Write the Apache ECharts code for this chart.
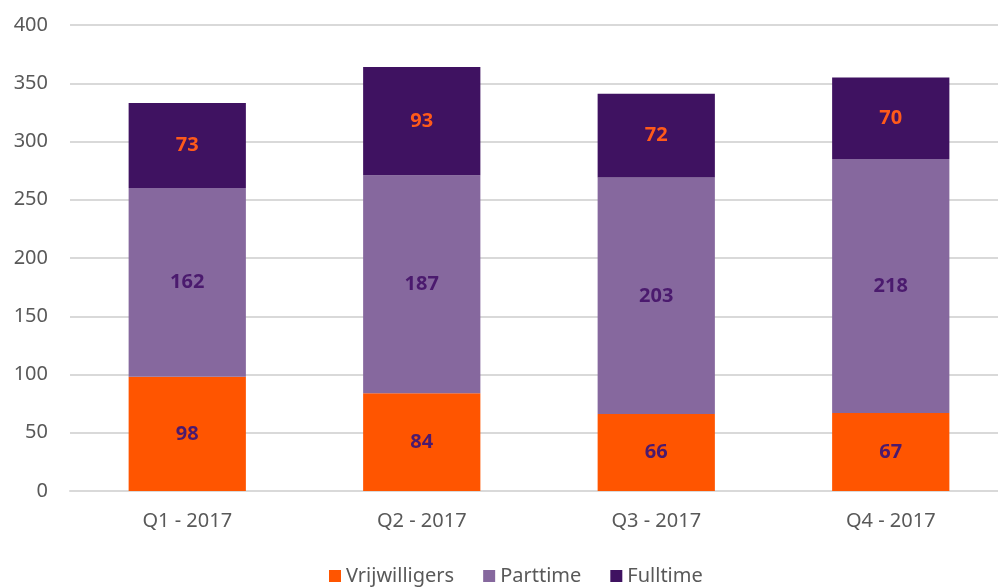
<!DOCTYPE html>
<html>
<head>
<meta charset="utf-8">
<script src="https://cdn.jsdelivr.net/npm/echarts@6/dist/echarts.min.js"></script>
<style>
  html, body { margin: 0; padding: 0; background: #fff; overflow: hidden; }
  #chart { width: 1012px; height: 587px; }
</style>
</head>
<body>
<div id="chart"></div>
<script>
// kwartalen
const categories = ['Q1 - 2017', 'Q2 - 2017', 'Q3 - 2017', 'Q4 - 2017'];
const vrijwilligers = [98, 84, 66, 67];
const parttime = [162, 187, 203, 218];
const fulltime = [73, 93, 72, 70];
const yTicks = [0, 50, 100, 150, 200, 250, 300, 350, 400];

const labelFont = 'Noto Sans';

function makeSeries(name, data, color, labelColor) {
  return {
    name: name,
    type: 'bar',
    stack: 'totaal',
    data: data,
    barWidth: '50%',
    itemStyle: { color: color },
    label: {
      show: true,
      position: 'inside',
      color: labelColor,
      fontWeight: 'bold',
      fontSize: 20,
      fontFamily: labelFont
    }
  };
}

const chart = echarts.init(document.getElementById('chart'));
chart.setOption({
  animation: false,
  grid: {
    left: 70,
    top: 25,
    width: 938,
    height: 466
  },
  legend: {
    top: 561,
    left: 324,
    icon: 'rect',
    itemWidth: 12,
    itemHeight: 12,
    itemGap: 29,
    textStyle: { color: '#595959', fontSize: 20, fontFamily: labelFont }
  },
  xAxis: {
    type: 'category',
    data: categories,
    axisTick: { show: false },
    axisLine: { lineStyle: { color: '#D9D9D9', width: 2 } },
    axisLabel: { color: '#595959', fontSize: 20, fontFamily: labelFont, margin: 20 }
  },
  yAxis: {
    type: 'value',
    min: yTicks[0],
    max: yTicks[yTicks.length - 1],
    interval: 50,
    axisLine: { show: false },
    axisTick: { show: false },
    splitLine: { lineStyle: { color: '#D9D9D9', width: 2 } },
    axisLabel: { color: '#595959', fontSize: 20, fontFamily: labelFont, margin: 22 }
  },
  series: [
    makeSeries('Vrijwilligers', vrijwilligers, '#FF5500', '#4B1A6E'),
    makeSeries('Parttime', parttime, '#86689E', '#4B1A6E'),
    makeSeries('Fulltime', fulltime, '#3F1261', '#FF5A1A')
  ]
});
</script>
</body>
</html>
